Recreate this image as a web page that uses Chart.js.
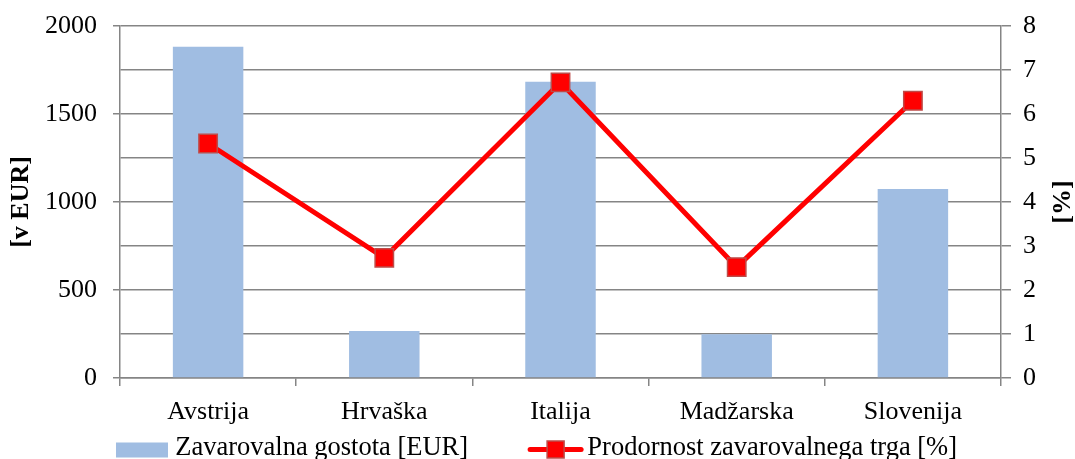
<!DOCTYPE html>
<html>
<head>
<meta charset="utf-8">
<script src="https://cdn.jsdelivr.net/npm/chart.js@4/dist/chart.umd.min.js"></script>
<style>
  html, body { margin: 0; padding: 0; background: #fff; }
  #wrap { width: 1075px; height: 459px; }
</style>
</head>
<body>
<div id="wrap"><canvas id="c" width="1075" height="459"></canvas></div>
<script>
const categories = ['Avstrija', 'Hrvaška', 'Italija', 'Madžarska', 'Slovenija'];
const densityEUR = [1882, 267, 1683, 248, 1074];
const penetrationPct = [5.33, 2.73, 6.72, 2.52, 6.30];
const seriesLabels = ['Zavarovalna gostota [EUR]', 'Prodornost zavarovalnega trga [%]'];
const leftTitle = '[v EUR]';
const rightTitle = '[%]';

const FAMILY = '"Liberation Serif", "Times New Roman", serif';
const GRID = '#858585';
const BAR = '#a0bde2';
const LINE = '#ff0000';
const MARKER_BORDER = '#be4b48';
const LEGEND_PAD = 62;
const LEGEND_FONT = 26.5;
const LEGEND_TEXT_Y = 448.5;

const overlay = {
  id: 'overlay',
  afterLayout(chart) {
    const lg = chart.legend;
    if (lg) {
      lg.top = LEGEND_TEXT_Y - LEGEND_PAD - LEGEND_FONT / 2;
      lg.bottom = lg.top + lg.height;
    }
  },
  afterDraw(chart) {
    const ctx = chart.ctx;
    const area = chart.chartArea;
    const y1 = chart.scales.y1;
    // right axis title, reading bottom-to-top
    ctx.save();
    ctx.font = 'bold 26px ' + FAMILY;
    ctx.fillStyle = '#000';
    ctx.textAlign = 'center';
    ctx.textBaseline = 'middle';
    ctx.translate(y1.right - 12, (area.top + area.bottom) / 2);
    ctx.rotate(-Math.PI / 2);
    ctx.fillText(rightTitle, 0, 0);
    ctx.restore();
    // legend swatches
    const boxes = chart.legend && chart.legend.legendHitBoxes;
    if (boxes && boxes[0]) {
      const b = boxes[0];
      const cy = b.top + b.height / 2 + 1.5;
      ctx.save();
      ctx.fillStyle = BAR;
      ctx.fillRect(b.left - 2, cy - 7.5, 52, 15);
      ctx.restore();
    }
    if (boxes && boxes[1]) {
      const b = boxes[1];
      const cy = b.top + b.height / 2 + 1;
      const x0 = b.left - 2, x1 = b.left + 53;
      ctx.save();
      ctx.strokeStyle = LINE;
      ctx.lineWidth = 5;
      ctx.lineCap = 'round';
      ctx.beginPath();
      ctx.moveTo(x0 + 2, cy);
      ctx.lineTo(x1 - 2, cy);
      ctx.stroke();
      const cx = (x0 + x1) / 2;
      ctx.fillStyle = LINE;
      ctx.fillRect(cx - 8.5, cy - 8.5, 17, 17);
      ctx.strokeStyle = MARKER_BORDER;
      ctx.lineWidth = 1.5;
      ctx.strokeRect(cx - 8.5, cy - 8.5, 17, 17);
      ctx.restore();
    }
  }
};

new Chart(document.getElementById('c'), {
  type: 'bar',
  data: {
    labels: categories,
    datasets: [
      {
        type: 'bar',
        label: seriesLabels[0],
        data: densityEUR,
        yAxisID: 'y',
        backgroundColor: BAR,
        borderWidth: 0,
        barPercentage: 1,
        categoryPercentage: 0.4,
        order: 1
      },
      {
        type: 'line',
        label: seriesLabels[1],
        data: penetrationPct,
        yAxisID: 'y1',
        borderColor: LINE,
        backgroundColor: LINE,
        borderWidth: 5,
        tension: 0,
        pointStyle: 'rect',
        pointRadius: 13,
        pointHoverRadius: 13,
        pointBackgroundColor: LINE,
        pointBorderColor: MARKER_BORDER,
        pointBorderWidth: 1.5,
        clip: false,
        order: 0
      }
    ]
  },
  options: {
    responsive: false,
    animation: false,
    layout: { padding: { top: 26, bottom: -67.5, left: 0, right: 0 } },
    plugins: {
      tooltip: { enabled: false },
      legend: {
        position: 'bottom',
        labels: {
          font: { family: FAMILY, size: LEGEND_FONT },
          color: '#000',
          boxWidth: 44,
          boxHeight: 15,
          padding: LEGEND_PAD,
          sort: (a, b) => a.datasetIndex - b.datasetIndex,
          generateLabels(chart) {
            const items = Chart.defaults.plugins.legend.labels.generateLabels(chart);
            items.forEach(it => {
              it.lineWidth = 0;
              it.fillStyle = 'rgba(0,0,0,0)';
              it.strokeStyle = 'rgba(0,0,0,0)';
            });
            return items;
          }
        }
      }
    },
    scales: {
      x: {
        grid: { display: true, drawOnChartArea: false, offset: true, tickLength: 8, color: GRID, lineWidth: 1.5 },
        border: { color: GRID, width: 1.5 },
        ticks: { font: { family: FAMILY, size: 26 }, color: '#000', padding: 11, maxRotation: 0, autoSkip: false },
        afterFit(s) { s.height = 50; }
      },
      y: {
        position: 'left',
        min: 0,
        max: 2000,
        ticks: {
          stepSize: 250,
          font: { family: FAMILY, size: 26, lineHeight: 0.5 },
          color: '#000',
          padding: 16,
          autoSkip: false,
          callback: (v) => (v % 500 === 0 ? String(v) : '')
        },
        grid: {
          color: GRID,
          lineWidth: 1.5,
          tickLength: 7,
          tickColor: (c) => (c.tick && c.tick.value % 500 === 0 ? GRID : 'rgba(0,0,0,0)')
        },
        border: { color: GRID, width: 1.5 },
        title: {
          display: true,
          text: leftTitle,
          color: '#000',
          font: { family: FAMILY, size: 26, weight: 'bold' },
          padding: { top: 6, bottom: 0 }
        },
        afterFit(s) { s.width = 120; }
      },
      y1: {
        position: 'right',
        min: 0,
        max: 8,
        ticks: { stepSize: 1, font: { family: FAMILY, size: 26, lineHeight: 0.5 }, color: '#000', padding: 12 },
        grid: { drawOnChartArea: false, tickLength: 10, color: GRID, lineWidth: 1.5 },
        border: { color: GRID, width: 1.5 },
        afterFit(s) { s.width = 74; }
      }
    }
  },
  plugins: [overlay]
});
</script>
</body>
</html>
